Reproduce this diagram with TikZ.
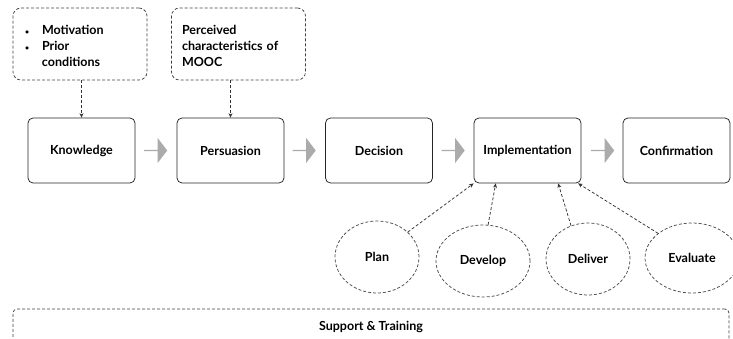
\documentclass[tikz,border=0pt]{standalone}
\usepackage{fontspec}
\setmainfont{Lato}
\usetikzlibrary{shapes.geometric,shapes.arrows,arrows.meta}

\newcommand{\puce}{{\fontsize{7}{7}\selectfont\textbullet}}

\begin{document}
\begin{tikzpicture}[x=1pt,y=-1pt,
  font=\fontsize{12.5}{16}\selectfont\bfseries,
  etape/.style={draw=black!85, line width=0.75pt, rounded corners=5pt, minimum width=107pt, minimum height=65pt},
  facteur/.style={draw=black!75, line width=0.75pt, dash pattern=on 3pt off 2pt, rounded corners=8pt, minimum width=134pt, minimum height=72pt, align=left},
  bulle/.style={ellipse, draw=black!70, line width=0.75pt, dash pattern=on 3pt off 2pt, inner sep=0pt, minimum height=72pt},
  pointe/.style={draw=black!80, line width=0.75pt, dash pattern=on 3pt off 2pt, -{Stealth[length=4.5pt,width=4pt]}},
  bloc/.style={single arrow, fill=black!33, inner sep=0pt, minimum height=23pt, minimum width=25pt, single arrow head extend=4pt, single arrow tip angle=105}]
  \useasboundingbox (0,0) rectangle (733,338);

  % les cinq etapes
  \node[etape] (know) at (81.5,150.5) {Knowledge};
  \node[etape] (pers) at (230.5,150.5) {Persuasion};
  \node[etape] (dec) at (379,150.5) {Decision};
  \node[etape] (impl) at (527.5,150.5) {Implementation};
  \node[etape] (conf) at (676.5,150.5) {Confirmation};

  % fleches grises entre les etapes
  \node[bloc] (f1) at (155.5,150.5) {};
  \node[bloc] (f2) at (304,150.5) {};
  \node[bloc] (f3) at (453,150.5) {};
  \node[bloc] (f4) at (602.5,150.5) {};

  % facteurs en haut
  \node[facteur, text width=110pt, inner xsep=12pt] (motiv) at (80,44)
    {\begin{tabular}{@{}p{17pt}@{}l@{}}\noalign{\vskip6pt}\puce & Motivation\\ \puce & Prior\\ & conditions\end{tabular}};
  \node[facteur, text width=113pt, inner xsep=10pt] (carac) at (238.5,44)
    {\begin{tabular}{@{}l@{}}\noalign{\vskip6pt}Perceived\\characteristics of\\MOOC\end{tabular}};
  \draw[pointe] (motiv.south -| know.north) -- (know.north);
  \draw[pointe] (carac.south -| pers.north) -- (pers.north);

  % les quatre phases sous Implementation
  \node[bulle, minimum width=84pt] (plan) at (377,257) {Plan};
  \node[bulle, minimum width=94pt] (dev) at (483,261) {Develop};
  \node[bulle, minimum width=84pt] (deliv) at (588,259) {Deliver};
  \node[bulle, minimum width=94pt, minimum height=70pt] (eval) at (692,258) {Evaluate};
  \draw[pointe] (plan.39) -- (impl.south west);
  \draw[pointe] (dev.82) -- (impl.226);
  \draw[pointe] (deliv.117) -- (impl.313);
  \draw[pointe] (eval.144) -- (impl.-33);

  % support en bas
  \node[draw=black!75, line width=0.75pt, dash pattern=on 3pt off 2pt, rounded corners=4pt, minimum width=716pt, minimum height=36pt] (supp) at (371,327) {Support \& Training};
\end{tikzpicture}
\end{document}
